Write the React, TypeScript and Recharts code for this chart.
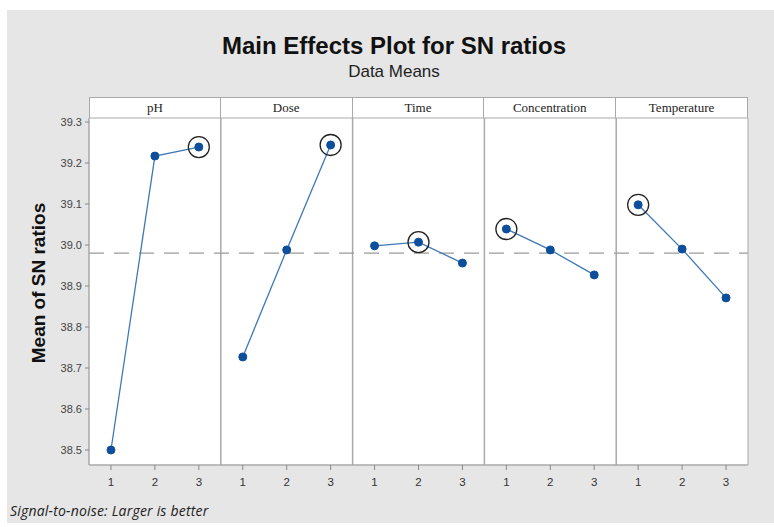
import React from "react";
import { ComposedChart, Line, XAxis, YAxis, ReferenceLine, ReferenceArea } from "recharts";

// factor names shown in the strip headers
const factors = ["pH", "Dose", "Time", "Concentration", "Temperature"];
const levels = [1, 2, 3];

// mean SN ratio per level
const phMeans = [38.5, 39.217, 39.239];
const doseMeans = [38.727, 38.988, 39.244];
const timeMeans = [38.998, 39.007, 38.956];
const concMeans = [39.039, 38.988, 38.927];
const tempMeans = [39.098, 38.99, 38.871];

const grandMean = 38.98;
const yTicks = [38.5, 38.6, 38.7, 38.8, 38.9, 39.0, 39.1, 39.2, 39.3];

const allMeans = [phMeans, doseMeans, timeMeans, concMeans, tempMeans];

const W = 774;
const H = 527;
const plotLeft = 89;
const plotRight = 748;
const plotTop = 118;
const plotBottom = 465;
const stripTop = 97;
const xAxisH = 30;
const yAxisW = 50;

const LINE = "#3f79b5";
const DOT = "#0d4f9a";
const BORDER = "#a9a9a9";
const SANS = "'Liberation Sans', Arial, sans-serif";

// one series per factor, x runs 1..15 across the five panels
const series = allMeans.map((means, f) => {
  const best = means.indexOf(Math.max(...means)); // larger is better
  return levels.map((lvl, i) => ({ x: f * 3 + lvl, y: means[i], best: i === best }));
});

const Dot = (props: any) => {
  const { cx, cy, payload } = props;
  if (cx == null || cy == null) return null;
  return (
    <g>
      <circle cx={cx} cy={cy} r={4} fill={DOT} stroke={DOT} />
      {payload.best && <circle cx={cx} cy={cy} r={10.5} fill="none" stroke="#222" strokeWidth={1.3} />}
    </g>
  );
};

export default function App() {
  const panelW = (plotRight - plotLeft) / factors.length;
  return (
    <div style={{ position: "absolute", left: 0, top: 0, width: W, height: H, background: "#fff", overflow: "hidden" }}>
      <div style={{ position: "absolute", left: 7, top: 10, width: W - 7, height: H - 14, background: "#e6e6e6" }} />
      <div
        style={{
          position: "absolute",
          left: 0,
          width: W,
          top: 32,
          textAlign: "center",
          fontFamily: SANS,
          fontWeight: "bold",
          fontSize: 24,
          lineHeight: "28px",
          color: "#111",
          paddingLeft: 14,
          boxSizing: "border-box",
        }}
      >
        Main Effects Plot for SN ratios
      </div>
      <div
        style={{
          position: "absolute",
          left: 0,
          width: W,
          top: 62,
          textAlign: "center",
          fontFamily: SANS,
          fontSize: 17,
          lineHeight: "20px",
          color: "#222",
          paddingLeft: 14,
          boxSizing: "border-box",
        }}
      >
        Data Means
      </div>

      {/* y axis title */}
      <div
        style={{
          position: "absolute",
          left: 39 - 120,
          top: 283 - 12,
          width: 240,
          height: 24,
          lineHeight: "24px",
          textAlign: "center",
          transform: "rotate(-90deg)",
          fontFamily: SANS,
          fontWeight: "bold",
          fontSize: 19,
          color: "#111",
        }}
      >
        Mean of SN ratios
      </div>

      {/* strip headers */}
      {factors.map((name, i) => (
        <div
          key={name}
          style={{
            position: "absolute",
            left: plotLeft + i * panelW,
            top: stripTop,
            width: panelW,
            height: plotTop - stripTop + 1,
            boxSizing: "border-box",
            background: "#fff",
            border: `1px solid ${BORDER}`,
            borderLeftWidth: i === 0 ? 1 : 0,
            fontFamily: "'Liberation Serif', 'Times New Roman', serif",
            fontSize: 13,
            color: "#222",
            textAlign: "center",
            lineHeight: "20px",
          }}
        >
          {name}
        </div>
      ))}

      <div style={{ position: "absolute", left: 0, top: 0 }}>
        <ComposedChart
          width={W}
          height={H}
          margin={{ top: plotTop, right: W - plotRight, bottom: H - plotBottom - xAxisH, left: plotLeft - yAxisW }}
        >
          <XAxis
            type="number"
            dataKey="x"
            height={xAxisH}
            domain={[0.5, 15.5]}
            ticks={series.flat().map((d) => d.x)}
            tickFormatter={(v: number) => String(((v - 1) % 3) + 1)}
            allowDataOverflow
            axisLine={{ stroke: BORDER }}
            tickLine={{ stroke: "#888" }}
            tickSize={5}
            tickMargin={8}
            tick={{ fill: "#333", fontSize: 11.5, fontFamily: SANS }}
          />
          <YAxis
            type="number"
            width={yAxisW}
            domain={[38.4634, 39.3098]}
            ticks={yTicks}
            allowDataOverflow
            tickFormatter={(v: number) => v.toFixed(1)}
            axisLine={{ stroke: BORDER }}
            tickLine={{ stroke: "#888" }}
            tickSize={4}
            tickMargin={3}
            tick={{ fill: "#444", fontSize: 11, fontFamily: SANS }}
          />
          <ReferenceArea x1={0.5} x2={15.5} y1={38.4634} y2={39.3098} fill="#fff" fillOpacity={1} stroke={BORDER} ifOverflow="visible" />
          {[3.5, 6.5, 9.5, 12.5].map((x) => (
            <ReferenceLine key={x} x={x} stroke={BORDER} strokeWidth={1.5} />
          ))}
          <ReferenceLine y={grandMean} stroke="#9a9a9a" strokeWidth={1.3} strokeDasharray="15 10" />
          {series.map((data, i) => (
            <Line
              key={factors[i]}
              data={data}
              dataKey="y"
              type="linear"
              stroke={LINE}
              strokeWidth={1.3}
              dot={<Dot />}
              activeDot={false}
              isAnimationActive={false}
            />
          ))}
        </ComposedChart>
      </div>

      <div
        style={{
          position: "absolute",
          left: 10,
          top: 502,
          fontFamily: "'Open Sans', sans-serif",
          fontStyle: "italic",
          fontSize: 14,
          lineHeight: "18px",
          color: "#222",
          letterSpacing: 0.2,
        }}
      >
        Signal-to-noise: Larger is better
      </div>
    </div>
  );
}
